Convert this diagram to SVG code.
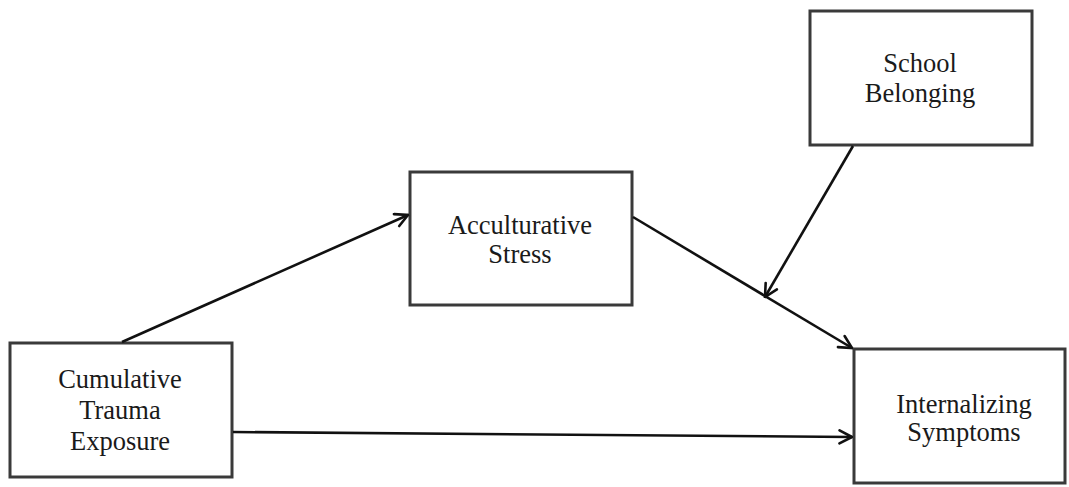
<svg xmlns="http://www.w3.org/2000/svg" width="1069" height="487" viewBox="0 0 1069 487">
  <style>
    .box { fill: #ffffff; stroke: #3a3a3a; stroke-width: 3; }
    .lbl { font-family: "Liberation Serif", "Times New Roman", serif; font-size: 26.5px; fill: #1a1a1a; text-anchor: middle; }
    .edge { fill: none; stroke: #111111; stroke-width: 2.6; marker-end: url(#arrow); }
  </style>
  <defs>
    <marker id="arrow" viewBox="0 0 16 16" refX="14.5" refY="8" markerWidth="16" markerHeight="16" markerUnits="userSpaceOnUse" orient="auto">
      <path d="M2,1.5 L14.5,8 L2,14.5" fill="none" stroke="#111111" stroke-width="2.6" stroke-linecap="round" stroke-linejoin="miter"/>
    </marker>
  </defs>
  <rect width="1069" height="487" fill="#ffffff"/>

  <g id="school-belonging">
    <rect class="box" x="810" y="11" width="222" height="134"/>
    <text class="lbl" x="920" y="72">School</text>
    <text class="lbl" x="920" y="102">Belonging</text>
  </g>

  <g id="acculturative-stress">
    <rect class="box" x="410" y="172" width="222" height="133"/>
    <text class="lbl" x="520" y="234">Acculturative</text>
    <text class="lbl" x="520" y="263">Stress</text>
  </g>

  <g id="cumulative-trauma-exposure">
    <rect class="box" x="10" y="343" width="222" height="134"/>
    <text class="lbl" x="120" y="388">Cumulative</text>
    <text class="lbl" x="120" y="419">Trauma</text>
    <text class="lbl" x="120" y="450">Exposure</text>
  </g>

  <g id="internalizing-symptoms">
    <rect class="box" x="854" y="349" width="211" height="134"/>
    <text class="lbl" x="964" y="413">Internalizing</text>
    <text class="lbl" x="964" y="441">Symptoms</text>
  </g>

  <g id="connectors">
    <line class="edge" x1="122" y1="342" x2="408" y2="215"/>
    <line class="edge" x1="233" y1="432" x2="852" y2="437"/>
    <line class="edge" x1="633" y1="217" x2="852" y2="348"/>
    <line class="edge" x1="853" y1="146" x2="765" y2="297"/>
  </g>
</svg>
